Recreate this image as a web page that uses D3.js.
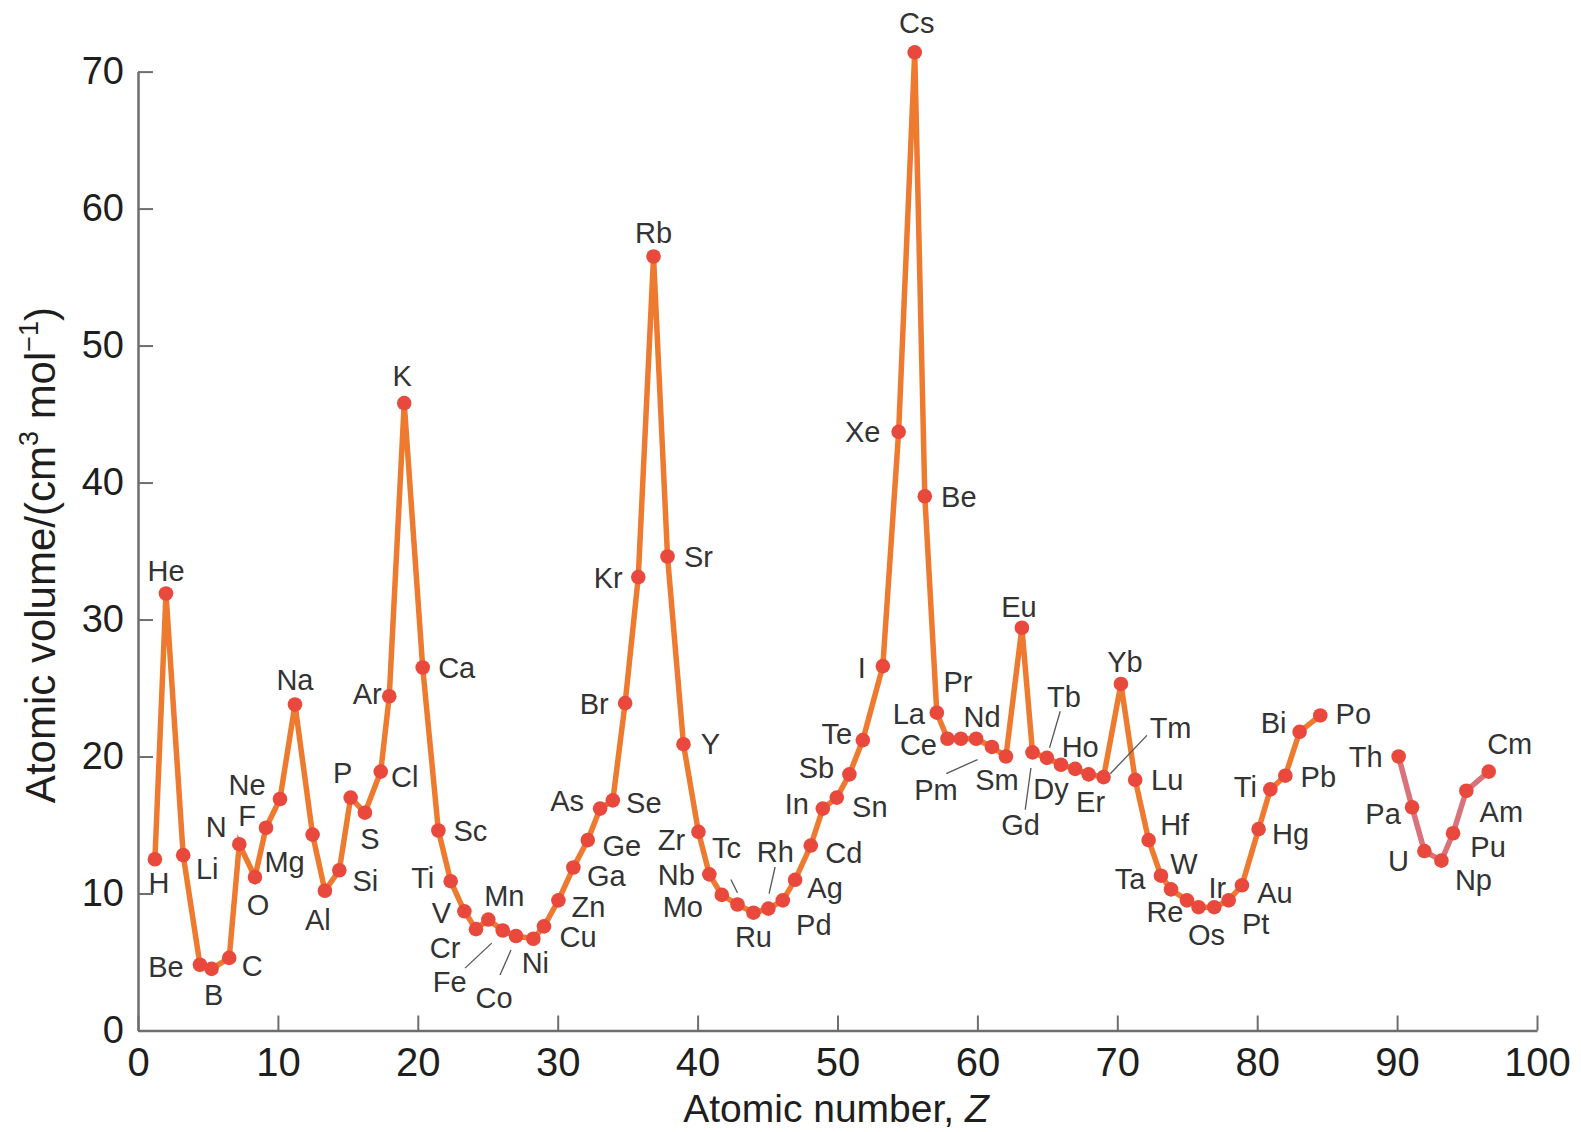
<!DOCTYPE html>
<html>
<head>
<meta charset="utf-8">
<script src="https://cdn.jsdelivr.net/npm/d3@7"></script>
<style>
  html, body { margin: 0; padding: 0; background: #fff; }
  svg { display: block; }
</style>
</head>
<body>
<svg id="chart" width="1581" height="1132"></svg>
<script>
// ---------------- DATA ----------------
const symbols = ["H","He","Li","Be","B","C","N","O","F","Ne","Na","Mg","Al","Si","P","S","Cl","Ar","K","Ca",
  "Sc","Ti","V","Cr","Mn","Fe","Co","Ni","Cu","Zn","Ga","Ge","As","Se","Br","Kr","Rb","Sr","Y","Zr",
  "Nb","Mo","Tc","Ru","Rh","Pd","Ag","Cd","In","Sn","Sb","Te","I","Xe","Cs","Be","La","Ce","Pr","Nd",
  "Pm","Sm","Eu","Gd","Tb","Dy","Ho","Er","Tm","Yb","Lu","Hf","Ta","W","Re","Os","Ir","Pt","Au","Hg",
  "Ti","Pb","Bi","Po"];
const atomicNumber = [1.21,2.0,3.23,4.43,5.26,6.52,7.24,8.36,9.15,10.15,11.22,12.48,13.36,14.39,15.2,16.22,17.35,17.96,19.03,20.35,
  21.47,22.35,23.33,24.16,25.04,26.07,27.02,28.26,29.02,30.05,31.12,32.15,33.03,33.94,34.82,35.76,36.85,37.85,38.99,40.06,
  40.84,41.73,42.85,43.99,45.06,46.09,46.97,48.09,48.95,49.95,50.85,51.81,53.24,54.37,55.52,56.24,57.1,57.86,58.82,59.91,
  61.04,62.04,63.18,63.94,64.97,65.97,66.99,67.95,69.02,70.26,71.28,72.24,73.12,73.84,74.98,75.81,76.93,77.96,78.91,80.1,
  80.94,82.01,83.03,84.51];
const atomicVolume = [12.5,31.9,12.8,4.8,4.5,5.3,13.6,11.2,14.8,16.9,23.8,14.3,10.2,11.7,17.0,15.9,18.9,24.4,45.8,26.5,
  14.6,10.9,8.7,7.4,8.1,7.3,6.9,6.7,7.6,9.5,11.9,13.9,16.2,16.8,23.9,33.1,56.5,34.6,20.9,14.5,
  11.4,9.9,9.2,8.6,8.9,9.5,11.0,13.5,16.2,17.0,18.7,21.2,26.6,43.7,71.4,39.0,23.2,21.3,21.3,21.3,
  20.7,20.0,29.4,20.3,19.9,19.4,19.1,18.7,18.5,25.3,18.3,13.9,11.3,10.3,9.5,9.0,9.0,9.5,10.6,14.7,
  17.6,18.6,21.8,23.0];

const actinideSymbols = ["Th","Pa","U","Np","Pu","Am","Cm"];
const actinideNumber = [90.11,91.07,91.95,93.17,94.0,94.95,96.55];
const actinideVolume = [20.0,16.3,13.1,12.4,14.4,17.5,18.9];

const xTicks = [0,10,20,30,40,50,60,70,80,90,100];
const yTicks = [0,10,20,30,40,50,60,70];

// ---------------- LABEL LAYOUT (pixel offsets from each marker) ----------------
const labelOffsets = [[4,23],[0,-23],[24,13],[-34,2],[2,26],[23,8],[-23,-18],[3,27],[-19,-12],[-33,-14],
  [0,-25],[-28,27],[-7,29],[26,10],[-8,-25],[5,26],[24,5],[-22,-3],[-2,-28],[34,0],
  [32,0],[-28,-4],[-23,1],[-31,18],[16,-24],[-53,51],[-22,62],[2,24],[34,10],[30,6],
  [33,8],[34,5],[-33,-8],[31,2],[-31,0],[-30,0],[0,-24],[31,0],[27,-1],[-27,8],
  [-33,0],[-39,12],[-11,-57],[0,24],[7,-57],[31,24],[30,8],[33,7],[-26,-5],[33,9],
  [-33,-7],[-26,-7],[-21,1],[-36,0],[2,-30],[34,0],[-28,1],[-29,6],[-3,-57],[6,-22],
  [-56,43],[-9,23],[-3,-21],[-12,72],[17,-61],[-10,24],[5,-22],[2,27],[67,-50],[4,-22],
  [32,0],[26,-16],[-31,3],[13,-26],[-22,11],[8,27],[3,-20],[27,23],[33,7],[32,4],
  [-25,-3],[33,1],[-26,-9],[33,-2]];
const actinideLabelOffsets = [[-33,0],[-29,6],[-26,10],[32,19],[35,13],[35,21],[21,-28]];

// leader lines: [index into symbols, x1, y1, x2, y2] offsets from marker
const leaders = [[25,-37.7,37.6,-11,12.6],[26,-16,39,-5,14],[42,-6.6,-25,0,-11.7],[44,6.7,-41.6,0.7,-15],
  [60,-45.7,26.6,-14.4,12.6],[63,-1.6,15.6,-7.3,57.3],[64,13.3,-46.6,2.6,-10],[68,43.4,-41.7,6.7,-3.4]];

// ---------------- CHART ----------------
const svg = d3.select("#chart");
svg.append("rect").attr("width",1581).attr("height",1132).attr("fill","#fff");

const x = d3.scaleLinear().domain([0,100]).range([138,1537]);
const y = d3.scaleLinear().domain([0,70]).range([1030.5,71.6]);

const axisColor = "#6e6e6e";

const gx = svg.append("g").attr("transform",`translate(0,${y(0)})`)
  .call(d3.axisBottom(x).tickValues(xTicks).tickSize(-15).tickSizeOuter(0).tickPadding(17).tickFormat(d3.format("d")));
gx.select(".domain").attr("stroke",axisColor).attr("stroke-width",2.5);
gx.selectAll(".tick line").attr("stroke",axisColor).attr("stroke-width",2);
gx.selectAll(".tick text").attr("font-family","'Liberation Sans Narrow', 'Liberation Sans', Arial, sans-serif")
  .attr("font-size",40).attr("fill","#1e1e1e");

const gy = svg.append("g").attr("transform",`translate(${x(0)},0)`)
  .call(d3.axisLeft(y).tickValues(yTicks).tickSize(-15).tickSizeOuter(0).tickPadding(14).tickFormat(d3.format("d")));
gy.select(".domain").attr("stroke",axisColor).attr("stroke-width",2.5);
gy.selectAll(".tick line").attr("stroke",axisColor).attr("stroke-width",2);
gy.selectAll(".tick text").attr("font-family","'Liberation Sans', Arial, sans-serif")
  .attr("font-size",38).attr("fill","#1e1e1e");

// axis titles
const xt = svg.append("text").attr("x",836).attr("y",1122).attr("text-anchor","middle")
  .attr("font-family","'Liberation Sans', Arial, sans-serif").attr("font-size",39).attr("fill","#1e1e1e");
xt.append("tspan").text("Atomic number, ");
xt.append("tspan").attr("font-style","italic").text("Z");

const yt = svg.append("text").attr("transform","translate(55,555) rotate(-90)").attr("text-anchor","middle")
  .attr("font-family","'Liberation Sans', Arial, sans-serif").attr("font-size",42).attr("fill","#1e1e1e");
yt.append("tspan").text("Atomic volume/(cm");
yt.append("tspan").attr("font-size",27).attr("dy",-17).text("3");
yt.append("tspan").attr("font-size",42).attr("dy",17).text(" mol");
yt.append("tspan").attr("font-size",27).attr("dy",-17).text("\u22121");
yt.append("tspan").attr("font-size",42).attr("dy",17).text(")");

// series
const main = symbols.map((s,i)=>({s, z:atomicNumber[i], v:atomicVolume[i], off:labelOffsets[i]}));
const act = actinideSymbols.map((s,i)=>({s, z:actinideNumber[i], v:actinideVolume[i], off:actinideLabelOffsets[i]}));

const line = d3.line().x(d=>x(d.z)).y(d=>y(d.v));
svg.append("path").datum(main).attr("d",line).attr("fill","none")
  .attr("stroke","#ee7a30").attr("stroke-width",5.5).attr("stroke-linejoin","miter").attr("stroke-miterlimit",6);
svg.append("path").datum(act).attr("d",line).attr("fill","none")
  .attr("stroke","#d9727a").attr("stroke-width",5.5).attr("stroke-linejoin","miter").attr("stroke-miterlimit",6);

svg.append("g").selectAll("circle").data(main.concat(act)).join("circle")
  .attr("cx",d=>x(d.z)).attr("cy",d=>y(d.v)).attr("r",7.3).attr("fill","#e8493c");

// leader lines
svg.append("g").selectAll("line").data(leaders).join("line")
  .attr("x1",d=>x(main[d[0]].z)+d[1]).attr("y1",d=>y(main[d[0]].v)+d[2])
  .attr("x2",d=>x(main[d[0]].z)+d[3]).attr("y2",d=>y(main[d[0]].v)+d[4])
  .attr("stroke","#555").attr("stroke-width",1.3);

// element labels
svg.append("g").selectAll("text").data(main.concat(act)).join("text")
  .attr("x",d=>x(d.z)+d.off[0]).attr("y",d=>y(d.v)+d.off[1]).attr("dy","0.36em")
  .attr("text-anchor","middle")
  .attr("font-family","'Liberation Sans', Arial, sans-serif").attr("font-size",29).attr("fill","#333")
  .text(d=>d.s);
</script>
</body>
</html>
